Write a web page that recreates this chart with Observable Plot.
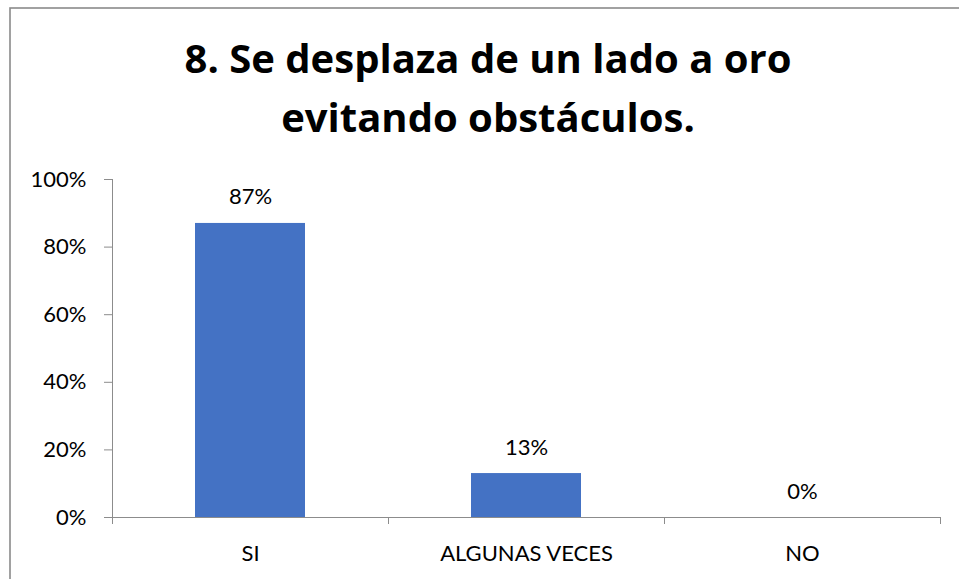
<!DOCTYPE html>
<html>
<head>
<meta charset="utf-8">
<script src="https://cdn.jsdelivr.net/npm/d3@7"></script>
<script src="https://cdn.jsdelivr.net/npm/@observablehq/plot@0.6"></script>
<style>
  html, body { margin: 0; padding: 0; background: #fff; overflow: hidden; }
  #wrap { position: relative; width: 959px; height: 579px; overflow: hidden; }
  #wrap svg { position: absolute; left: 0; top: 0; }
</style>
</head>
<body>
<div id="wrap"></div>
<script>
// ---- data ----
const titleLines = ["8. Se desplaza de un lado a oro", "evitando obstáculos."];
const categories = ["SI", "ALGUNAS VECES", "NO"];
const values = [0.87, 0.13, 0.0];
const yTicks = [0, 0.2, 0.4, 0.6, 0.8, 1.0];

const data = categories.map((c, i) => ({category: c, value: values[i]}));

// ---- layout ----
const W = 959, H = 579;
const mT = 179, mB = 62, mL = 112, mR = 19;
const plotH = H - mT - mB;
const step = (W - mL - mR) / categories.length;
const tickLen = 7 / plotH; // axis tick length expressed in y units
const axisColor = "#8c8c8c";
const font = "Lato, 'Open Sans', sans-serif";
const titleFont = "'Open Sans', Lato, sans-serif";
const fs = 22;

const chart = Plot.plot({
  width: W,
  height: H,
  marginTop: mT,
  marginBottom: mB,
  marginLeft: mL,
  marginRight: mR,
  style: {fontFamily: font, color: "#000", background: "transparent"},
  x: {domain: categories, paddingInner: 0.6, paddingOuter: 0.3, label: null},
  y: {domain: [0, 1], label: null},
  marks: [
    Plot.barY(data, {x: "category", y: "value", fill: "#4472C4"}),
    Plot.ruleY([0], {stroke: axisColor}),
    Plot.ruleX([categories[0]], {x: d => d, y1: -tickLen, y2: 1, dx: -step / 2, stroke: axisColor}),
    Plot.ruleX(categories, {x: d => d, y1: 0, y2: -tickLen, dx: step / 2, stroke: axisColor}),
    Plot.axisY({ticks: yTicks, tickFormat: d3.format(".0%"), tickSize: 8, tickPadding: 18,
                fontSize: fs, stroke: axisColor, fill: "#000", label: null}),
    Plot.axisX({tickSize: 0, tickPadding: 28, fontSize: fs, fill: "#000", label: null}),
    Plot.text(data, {x: "category", y: "value", text: d => d3.format(".0%")(d.value),
                     lineAnchor: "bottom", dy: -19, fontSize: fs, fill: "#000"})
  ]
});

const wrap = document.getElementById("wrap");
wrap.appendChild(chart);

// ---- frame border + title overlay ----
const overlay = d3.select(wrap).append("svg")
  .attr("width", W).attr("height", H)
  .style("pointer-events", "none");

overlay.append("rect")
  .attr("x", 10).attr("y", 8)
  .attr("width", W + 40).attr("height", H + 40)
  .attr("fill", "none").attr("stroke", "#8a8a8a").attr("stroke-width", 1.6);

const t = overlay.append("text")
  .attr("text-anchor", "middle")
  .attr("font-family", titleFont)
  .attr("font-weight", 700)
  .attr("font-size", 38)
  .attr("fill", "#000");
const baselines = [73, 132];
const spans = titleLines.map((line, i) =>
  t.append("tspan").attr("x", 488).attr("y", baselines[i]).text(line));
// fit first title line to the reference width
const targetWidth = 607;
const measured = spans[0].node().getComputedTextLength();
if (measured > 0) t.attr("font-size", 38 * targetWidth / measured);
</script>
</body>
</html>
